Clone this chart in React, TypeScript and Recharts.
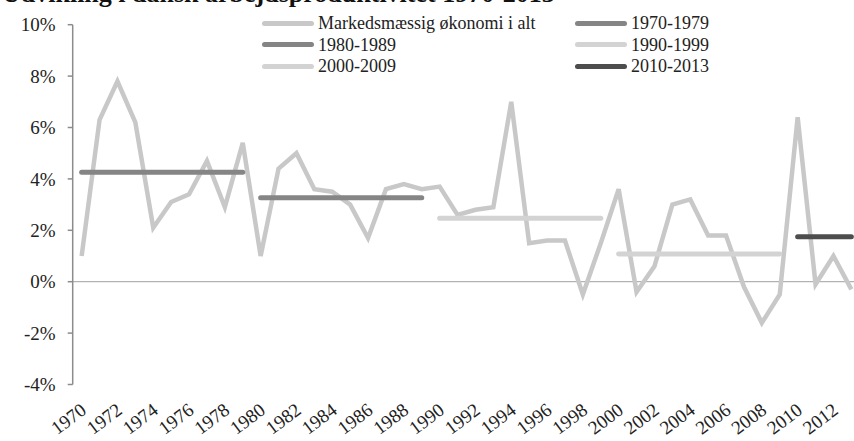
import { LineChart, Line, XAxis, YAxis, ReferenceLine } from 'recharts';

const years = [
  1970, 1971, 1972, 1973, 1974, 1975, 1976, 1977, 1978, 1979,
  1980, 1981, 1982, 1983, 1984, 1985, 1986, 1987, 1988, 1989,
  1990, 1991, 1992, 1993, 1994, 1995, 1996, 1997, 1998, 1999,
  2000, 2001, 2002, 2003, 2004, 2005, 2006, 2007, 2008, 2009,
  2010, 2011, 2012, 2013,
];

// Markedsmæssig økonomi i alt, pct.
const productivity = [
  1.0, 6.3, 7.8, 6.2, 2.1, 3.1, 3.4, 4.7, 2.9, 5.4,
  1.0, 4.4, 5.0, 3.6, 3.5, 3.0, 1.7, 3.6, 3.8, 3.6,
  3.7, 2.6, 2.8, 2.9, 7.0, 1.5, 1.6, 1.6, -0.5, 1.5,
  3.6, -0.4, 0.6, 3.0, 3.2, 1.8, 1.8, -0.2, -1.6, -0.5,
  6.4, -0.1, 1.0, -0.3,
];

const periods = ['1970-1979', '1980-1989', '1990-1999', '2000-2009', '2010-2013'];
const periodStart = [1970, 1980, 1990, 2000, 2010];
const periodEnd = [1979, 1989, 1999, 2009, 2013];
const periodAverage = [4.26, 3.27, 2.47, 1.08, 1.75];
const periodColors = ['#858585', '#858585', '#d3d3d3', '#d3d3d3', '#4d4d4d'];

const yTicks = [-4, -2, 0, 2, 4, 6, 8, 10];
const xTicks = [
  1970, 1972, 1974, 1976, 1978, 1980, 1982, 1984, 1986, 1988, 1990,
  1992, 1994, 1996, 1998, 2000, 2002, 2004, 2006, 2008, 2010, 2012,
];

const mainLabel = 'Markedsmæssig økonomi i alt';
const mainColor = '#c8c8c8';
const font = '"Liberation Serif", serif';

const data = years.map((year, i) => {
  const row: Record<string, number | null> = { year, total: productivity[i] };
  periods.forEach((p, j) => {
    row[p] = year >= periodStart[j] && year <= periodEnd[j] ? periodAverage[j] : null;
  });
  return row;
});

const YearTick = ({ x, y, payload }: any) => (
  <g transform={`translate(${x + 6},${y + 20})`}>
    <text transform="rotate(-37)" textAnchor="end" fontSize={19} fill="#222" fontFamily={font}>
      {payload.value}
    </text>
  </g>
);

const legendItems = [
  { label: mainLabel, color: mainColor },
  { label: periods[0], color: periodColors[0] },
  { label: periods[1], color: periodColors[1] },
  { label: periods[2], color: periodColors[2] },
  { label: periods[3], color: periodColors[3] },
  { label: periods[4], color: periodColors[4] },
];

function ChartLegend() {
  return (
    <div style={{ position: 'absolute', left: 262, top: 12, fontFamily: font, fontSize: 18, color: '#222' }}>
      {legendItems.map((item, i) => (
        <div
          key={item.label}
          style={{
            position: 'absolute',
            left: i % 2 === 0 ? 0 : 313,
            top: Math.floor(i / 2) * 21.5,
            display: 'flex',
            alignItems: 'center',
            whiteSpace: 'nowrap',
            lineHeight: '22px',
          }}
        >
          <span
            style={{
              display: 'inline-block',
              width: 52,
              height: 5,
              borderRadius: 3,
              background: item.color,
              marginRight: 4,
            }}
          />
          {item.label}
        </div>
      ))}
    </div>
  );
}

export default function App() {
  return (
    <div
      style={{
        position: 'absolute',
        left: 0,
        top: 0,
        width: 854,
        height: 441,
        overflow: 'hidden',
        background: '#fff',
      }}
    >
      <div
        style={{
          position: 'absolute',
          left: 2,
          top: -21,
          fontFamily: font,
          fontWeight: 'bold',
          fontSize: 26,
          color: '#111',
          whiteSpace: 'nowrap',
        }}
      >
        Udvikling i dansk arbejdsproduktivitet 1970-2013
      </div>
      <LineChart
        width={870}
        height={441}
        data={data}
        margin={{ top: 24.7, right: 9.7, bottom: 6.5, left: 0 }}
      >
        <XAxis
          dataKey="year"
          type="number"
          domain={[1969.5, 2013.5]}
          ticks={xTicks}
          tick={<YearTick />}
          axisLine={false}
          tickLine={false}
          height={50}
          interval={0}
        />
        <YAxis
          domain={[-4, 10]}
          ticks={yTicks}
          width={72.7}
          tickFormatter={(v) => `${v}%`}
          tick={{ fill: '#222', fontSize: 19, fontFamily: font }}
          tickSize={5}
          tickMargin={12}
          stroke="#8c8c8c"
          strokeWidth={1.5}
        />
        <ReferenceLine y={0} stroke="#a0a0a0" strokeWidth={1} />
        <Line
          type="linear"
          dataKey="total"
          stroke={mainColor}
          strokeWidth={4.5}
          dot={false}
          isAnimationActive={false}
        />
        {periods.map((p, j) => (
          <Line
            key={p}
            type="linear"
            dataKey={p}
            stroke={periodColors[j]}
            strokeWidth={5}
            strokeLinecap="round"
            dot={false}
            connectNulls={false}
            isAnimationActive={false}
          />
        ))}
      </LineChart>
      <ChartLegend />
    </div>
  );
}
